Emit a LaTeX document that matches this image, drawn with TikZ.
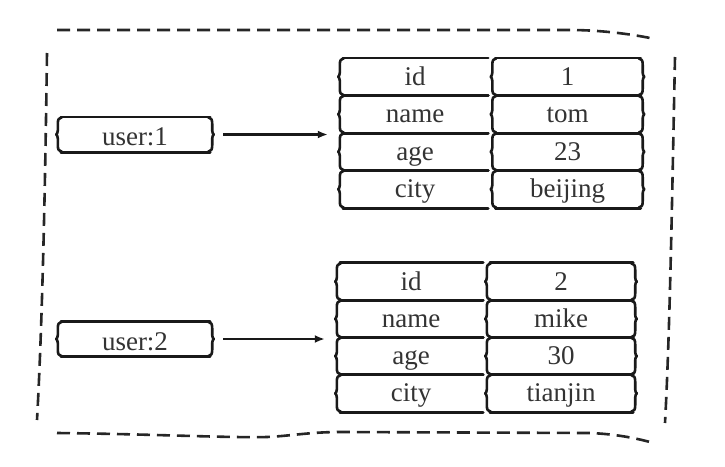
\documentclass[tikz,border=0pt]{standalone}
\usepackage{fontspec}
\setmainfont{Liberation Serif}
\usetikzlibrary{calc,arrows.meta}
\tikzset{
  hb/.style={line width=2.6pt, line cap=round, line join=round, draw=black!90},
  dashb/.style={line width=2.6pt, draw=black!85, dash pattern=on 13pt off 7pt},
  conn/.style={line width=2.3pt, draw=black!90, -{Latex[length=10pt,width=8pt]}, shorten <=11pt, shorten >=12pt},
  txt/.style={font=\fontsize{27}{30}\selectfont, text=black!80, inner sep=0pt, text height=17pt, text depth=0pt},
  cellA/.style={txt, minimum width=150pt, minimum height=37.5pt},
  cellB/.style={txt, minimum width=148pt, minimum height=37.25pt},
  ubox/.style={txt, minimum width=154pt, minimum height=35pt, text height=22pt}
}
\newcommand\lside[1]{%
  \draw[hb] ($(#1.north west)+(4,0.5)$) .. controls +(-3,0) and +(0,-4) .. ($(#1.north west)+(0,7)$)
     -- ($(#1.west)+(0,-4)$) .. controls +(0,2.5) and +(0.8,-1) .. ($(#1.west)+(-1.6,0)$)
     .. controls +(0.8,1) and +(0,-2.5) .. ($(#1.west)+(0,4)$)
     -- ($(#1.south west)+(0,-7)$) .. controls +(0,4) and +(-3,0) .. ($(#1.south west)+(4,-0.5)$);}
\newcommand\rside[1]{%
  \draw[hb] ($(#1.north east)+(-4,0.5)$) .. controls +(3,0) and +(0,-4) .. ($(#1.north east)+(0,7)$)
     -- ($(#1.east)+(0,-4)$) .. controls +(0,2.5) and +(-0.8,-1) .. ($(#1.east)+(1.6,0)$)
     .. controls +(-0.8,1) and +(0,-2.5) .. ($(#1.east)+(0,4)$)
     -- ($(#1.south east)+(0,-7)$) .. controls +(0,4) and +(3,0) .. ($(#1.south east)+(-4,-0.5)$);}
\newcommand\tb[1]{%
  \draw[hb] ($(#1.north west)+(3,0)$) -- ($(#1.north east)+(-2,0)$);
  \draw[hb] ($(#1.south west)+(3,0)$) -- ($(#1.south east)+(-2,0)$);}
\begin{document}
\begin{tikzpicture}[x=1pt,y=-1pt]
\useasboundingbox (0,0) rectangle (725,466);
% outer dashed border
\draw[dashb] (57,30) -- (570,30) .. controls (600,30) and (630,34) .. (650,38);
\draw[dashb] (47,53) .. controls (45,200) and (42,330) .. (37,420);
\draw[dashb] (675,57) .. controls (672,200) and (670,330) .. (665,423);
\draw[dashb] (57,433) .. controls (150,434) and (230,438) .. (267,437)
  .. controls (290,436) and (310,432) .. (340,432) -- (590,433)
  .. controls (615,434) and (635,438) .. (650,442);
% user keys
\node[ubox] (u1) at (135,134.5) {user:1};
\node[ubox] (u2) at (135,339) {user:2};
% table 1
\node[cellA] (a1k) at (415,76.75) {id};
\node[cellA] (a1v) at (567.5,76.75) {1};
\node[cellA] (a2k) at (415,114.25) {name};
\node[cellA] (a2v) at (567.5,114.25) {tom};
\node[cellA] (a3k) at (415,151.75) {age};
\node[cellA] (a3v) at (567.5,151.75) {23};
\node[cellA] (a4k) at (415,189.25) {city};
\node[cellA] (a4v) at (567.5,189.25) {beijing};
% table 2
\node[cellB] (b1k) at (411,281.6) {id};
\node[cellB] (b1v) at (561,281.6) {2};
\node[cellB] (b2k) at (411,318.9) {name};
\node[cellB] (b2v) at (561,318.9) {mike};
\node[cellB] (b3k) at (411,356.1) {age};
\node[cellB] (b3v) at (561,356.1) {30};
\node[cellB] (b4k) at (411,393.4) {city};
\node[cellB] (b4v) at (561,393.4) {tianjin};
% hand-drawn borders
\foreach \n in {u1,u2}{\tb{\n}\lside{\n}\rside{\n}}
\foreach \n in {a1k,a2k,a3k,a4k,b1k,b2k,b3k,b4k}{\tb{\n}\lside{\n}}
\foreach \n in {a1v,a2v,a3v,a4v,b1v,b2v,b3v,b4v}{\tb{\n}\lside{\n}\rside{\n}}
% connectors
\draw[conn] (u1.east) -- (u1.east -| a2k.west);
\draw[conn] (u2.east) -- (u2.east -| b2k.west);
\end{tikzpicture}
\end{document}
